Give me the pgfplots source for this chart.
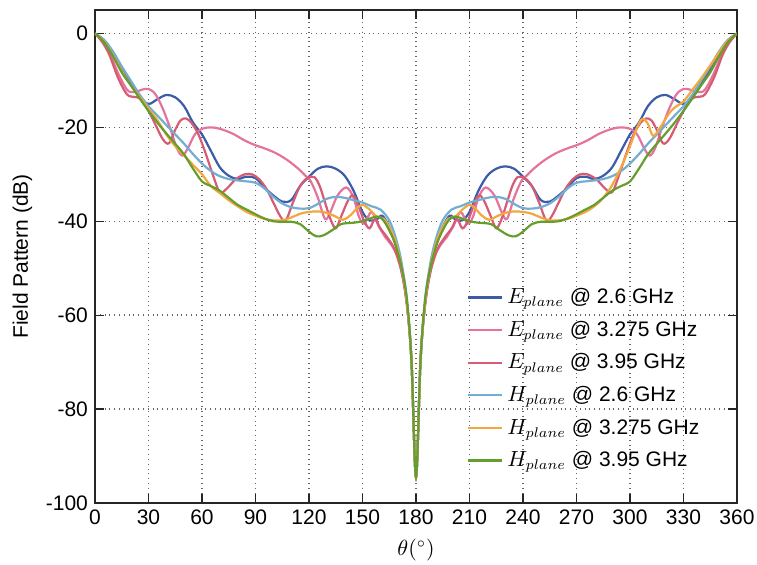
\documentclass[border=0pt]{standalone}
\usepackage{fontspec}
\setmainfont{Liberation Sans}
\usepackage{pgfplots}
\pgfplotsset{compat=1.18}
\definecolor{cEa}{rgb}{0.23,0.36,0.65}
\definecolor{cEb}{rgb}{0.90,0.45,0.62}
\definecolor{cEc}{rgb}{0.84,0.36,0.45}
\definecolor{cHa}{rgb}{0.45,0.68,0.82}
\definecolor{cHb}{rgb}{0.95,0.66,0.25}
\definecolor{cHc}{rgb}{0.40,0.62,0.18}
\begin{document}
\begin{tikzpicture}
\path[use as bounding box] (-47.5pt,-30.5pt) rectangle (331pt,251.5pt);
\begin{axis}[
  scale only axis, width=321pt, height=246.5pt,
  xmin=0, xmax=360, ymin=-100, ymax=5,
  xtick={0,30,...,360}, ytick={-100,-80,-60,-40,-20,0},
  grid=major,
  major grid style={dotted, black!60, line width=0.75pt},
  axis line style={black!85, line width=0.8pt},
  tick style={black!85, line width=0.6pt},
  tick align=inside,
  /pgf/number format/assume math mode=true,
  every tick label/.append style={font=\fontsize{10.5}{12}\selectfont},
  label style={font=\fontsize{10.5}{12}\selectfont},
  xlabel={$\theta(^{\circ})$},
  ylabel={Field Pattern (dB)},
  legend style={at={(axis cs:205,-52.5)}, anchor=north west, draw=none, fill=none,
    font=\fontsize{10.5}{12}\selectfont, row sep=3.2pt},
  legend cell align=left,
  every axis plot/.append style={line width=1.1pt, smooth, tension=0.55},
]
% E plane 2.6 GHz
\addplot[cEa] coordinates {
(0,0) (5,-1.5) (10,-4) (15,-7.5) (20,-10.5) (25,-13.5) (30,-15) (35,-14) (40,-13.1) (45,-13.6) (50,-15.5) (55,-19) (60,-21.5) (65,-25) (70,-28.5) (75,-30.3) (80,-31) (85,-30.5) (90,-30.8) (95,-32.8) (100,-34.5) (105,-35.8) (110,-35.5) (115,-32.5) (120,-30.5) (125,-28.8) (130,-28.3) (135,-28.8) (140,-30.3) (145,-33.5) (150,-38) (154,-39.8) (158,-39.6) (161,-38.8) (165,-41.2) (169,-45.5) (172,-50) (175,-58) (177.5,-70) (180,-94.5)
(182.5,-70) (185,-58) (188,-50) (191,-45.5) (195,-41.2) (199,-38.8) (202,-39.6) (206,-39.8) (210,-38) (215,-33.5) (220,-30.3) (225,-28.8) (230,-28.3) (235,-28.8) (240,-30.5) (245,-32.5) (250,-35.5) (255,-35.8) (260,-34.5) (265,-32.8) (270,-30.8) (275,-30.5) (280,-31) (285,-30.3) (290,-28.5) (295,-25) (300,-21.5) (305,-19) (310,-15.5) (315,-13.6) (320,-13.1) (325,-14) (330,-15) (335,-13.5) (340,-10.5) (345,-7.5) (350,-4) (355,-1.5) (360,0)};
\addlegendentry{$E_{plane}$ @ 2.6 GHz}
% E plane 3.275 GHz
\addplot[cEb] coordinates {
(0,0) (4,-1.5) (8,-4) (13,-8.5) (18,-12) (22,-12.5) (26,-12) (30,-11.8) (34,-13) (38,-16) (42,-20) (46,-24.5) (49,-26) (52,-24.5) (56,-21.5) (60,-20.3) (65,-20) (70,-20.3) (77,-21.3) (84,-22.8) (90,-23.8) (96,-24.6) (102,-25.6) (108,-27) (114,-28.8) (118,-30.3) (121,-31.5) (125,-35) (129,-39.5) (132,-38) (136,-34.5) (141,-32.8) (145,-35) (148,-39) (151,-40.5) (155,-38) (159,-41) (163,-43.5) (167,-45.5) (171,-49) (175,-58) (177.5,-70) (180,-94.5)
(182.5,-70) (185,-58) (189,-49) (193,-45.5) (197,-43.5) (201,-41) (205,-38) (209,-40.5) (212,-39) (215,-35) (219,-32.8) (224,-34.5) (228,-38) (231,-39.5) (235,-35) (239,-31.5) (242,-30.3) (246,-28.8) (252,-27) (258,-25.6) (264,-24.6) (270,-23.8) (276,-22.8) (283,-21.3) (290,-20.3) (295,-20) (300,-20.3) (304,-21.5) (308,-24.5) (311,-26) (314,-24.5) (318,-20) (322,-16) (326,-13) (330,-11.8) (334,-12) (338,-12.5) (342,-12) (347,-8.5) (352,-4) (356,-1.5) (360,0)};
\addlegendentry{$E_{plane}$ @ 3.275 GHz}
% E plane 3.95 GHz
\addplot[cEc] coordinates {
(0,0) (4,-1.8) (8,-4.5) (13,-9.5) (18,-13) (22,-13.5) (26,-14) (30,-16.5) (34,-19.5) (38,-22.5) (41.5,-23.4) (45,-20.5) (48,-18.5) (51,-18.1) (54,-19) (58,-21.5) (62,-25.5) (66,-30) (70,-33.8) (74,-33) (79,-31) (84,-30) (88,-30) (92,-31) (96,-33) (100,-36) (104,-39) (107,-39.8) (111,-36) (115,-32.5) (119,-30.8) (123,-30.6) (126,-32.5) (129,-36) (132,-39.5) (135,-41.5) (138,-39) (142,-35.5) (145,-34.5) (148,-37) (151,-40) (154,-41.5) (157,-39.5) (160,-41.5) (164,-43.5) (168,-46) (172,-51) (175,-58) (177.5,-70) (180,-94.5)
(182.5,-70) (185,-58) (188,-51) (192,-46) (196,-43.5) (200,-41.5) (203,-39.5) (206,-41.5) (209,-40) (212,-37) (215,-34.5) (218,-35.5) (222,-39) (225,-41.5) (228,-39.5) (231,-36) (234,-32.5) (237,-30.6) (241,-30.8) (245,-32.5) (249,-36) (253,-39.8) (256,-39) (260,-36) (264,-33) (268,-31) (272,-30) (276,-30) (281,-31) (286,-33) (290,-33.8) (294,-30) (298,-25.5) (302,-21.5) (306,-19) (309,-18.1) (312,-18.5) (315,-20.5) (318.5,-23.4) (322,-22.5) (326,-19.5) (330,-16.5) (334,-14) (338,-13.5) (342,-13) (347,-9.5) (352,-4.5) (356,-1.8) (360,0)};
\addlegendentry{$E_{plane}$ @ 3.95 GHz}
% H plane 2.6 GHz
\addplot[cHa] coordinates {
(0,0) (5,-1.3) (10,-3.8) (15,-7) (20,-10) (25,-13) (30,-15.5) (35,-17.5) (40,-19.5) (45,-21.5) (50,-23.5) (55,-25.7) (60,-27.7) (65,-29.3) (70,-30.4) (75,-31) (80,-31.3) (85,-31.5) (90,-31.8) (95,-33) (100,-34.8) (105,-36.2) (110,-37) (115,-37.3) (120,-37.2) (125,-36.3) (130,-35.2) (135,-34.8) (140,-35) (145,-35.5) (150,-36) (155,-36.8) (160,-37.5) (165,-39.8) (169,-44) (172,-49) (175,-57) (177.5,-70) (180,-94.5)
(182.5,-70) (185,-57) (188,-49) (191,-44) (195,-39.8) (200,-37.5) (205,-36.8) (210,-36) (215,-35.5) (220,-35) (225,-34.8) (230,-35.2) (235,-36.3) (240,-37.2) (245,-37.3) (250,-37) (255,-36.2) (260,-34.8) (265,-33) (270,-31.8) (275,-31.5) (280,-31.3) (285,-31) (290,-30.4) (295,-29.3) (300,-27.7) (305,-25.7) (310,-23.5) (315,-21.5) (320,-19.5) (325,-17.5) (330,-15.5) (335,-13) (340,-10) (345,-7) (350,-3.8) (355,-1.3) (360,0)};
\addlegendentry{$H_{plane}$ @ 2.6 GHz}
% H plane 3.275 GHz
\addplot[cHb] coordinates {
(0,0) (5,-1.7) (10,-4.6) (15,-8) (20,-11) (25,-13.5) (30,-16) (35,-18.5) (40,-21.5) (45,-24) (50,-26) (55,-28) (60,-30) (65,-32.5) (70,-34) (75,-35.5) (80,-36.8) (85,-38) (90,-38.8) (95,-39.5) (100,-39.8) (105,-39.8) (110,-39.2) (115,-38.4) (120,-38) (125,-37.9) (130,-38.2) (135,-39) (139,-39.7) (143,-38.8) (147,-37.2) (150,-36.5) (154,-37.5) (158,-39) (162,-39.5) (166,-42) (169,-45) (172,-50) (175,-57.5) (177.5,-70) (180,-94.5)
(182.5,-70) (185,-57.5) (188,-50) (191,-45) (194,-42) (198,-39.5) (202,-39) (206,-37.5) (210,-36.5) (213,-37.2) (217,-38.8) (221,-39.7) (225,-39) (230,-38.2) (235,-37.9) (240,-38) (245,-38.4) (250,-39.2) (255,-39.8) (260,-39.8) (265,-39.5) (270,-38.8) (275,-38) (280,-36.8) (285,-35) (290,-32.3) (295,-28.5) (300,-24) (304,-20) (307,-18.2) (310,-19.2) (313,-21.8) (317,-20) (322,-17) (326,-15.5) (330,-14.5) (335,-12) (340,-9.5) (345,-6.8) (350,-4) (355,-1.5) (360,0)};
\addlegendentry{$H_{plane}$ @ 3.275 GHz}
% H plane 3.95 GHz
\addplot[cHc] coordinates {
(0,0) (5,-1.8) (10,-4.8) (15,-8.3) (20,-11) (25,-13.8) (30,-16.5) (35,-19) (40,-21.3) (45,-23.5) (50,-25.8) (55,-28.8) (60,-31.5) (65,-32.5) (70,-33.5) (75,-35) (80,-36.5) (85,-37.5) (90,-38.5) (95,-39.4) (100,-40) (105,-40.1) (110,-40.1) (115,-40.6) (120,-42.2) (124,-43.2) (128,-43) (133,-41.9) (138,-40.6) (145,-40.3) (150,-40) (155,-39.3) (158,-39) (161,-39.5) (164,-41.2) (168,-44.5) (172,-50) (175,-57) (177.5,-70) (180,-94.5)
(182.5,-70) (185,-57) (188,-50) (192,-44.5) (196,-41.2) (199,-39.5) (202,-39) (205,-39.3) (210,-40) (215,-40.3) (222,-40.6) (227,-41.9) (232,-43) (236,-43.2) (240,-42.2) (245,-40.6) (250,-40.1) (255,-40.1) (260,-40) (265,-39.4) (270,-38.5) (275,-37.5) (280,-36.5) (285,-35) (290,-33.5) (295,-32.5) (300,-31.5) (305,-28.8) (310,-25.8) (315,-23.5) (320,-21.3) (325,-19) (330,-16.5) (335,-13.8) (340,-11) (345,-8.3) (350,-4.8) (355,-1.8) (360,0)};
\addlegendentry{$H_{plane}$ @ 3.95 GHz}
\end{axis}
\end{tikzpicture}
\end{document}
